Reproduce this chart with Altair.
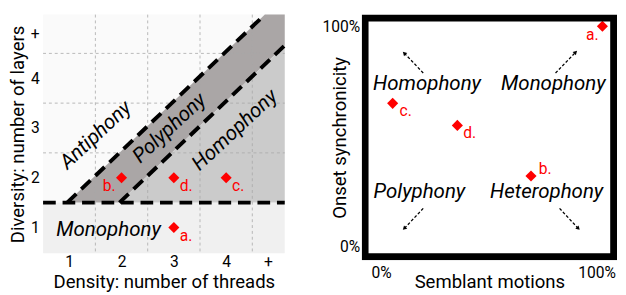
import altair as alt
import pandas as pd

FONT = "Roboto"

# ---------------- left panel data ----------------
density_ticks = [1, 2, 3, 4, 4.8]
density_labels = ["1", "2", "3", "4", "+"]
diversity_ticks = [1, 2, 3, 4, 4.9]
diversity_labels = ["1", "2", "3", "4", "+"]
grid_x = [1.5, 2.5, 3.5, 4.5]
grid_y = [2.5, 3.5, 4.5]

pt_names = ["a.", "b.", "c.", "d."]
left_x = [3, 2, 4, 3]
left_y = [1, 2, 2, 2]

# region boundaries (data space)
XL, XR = 0.5, 5.12
YB, YT = 0.48, 5.28
SPLIT = 1.5
band_x = [0.96, 1.96, 4.74, 5.12]
band_top = [1.5, 2.5, 5.28, 5.28]
band_bot = [1.5, 1.5, 4.28, 4.66]
homo_x = [1.96, 5.12]
homo_top = [1.5, 4.66]
homo_bot = [1.5, 1.5]

region_names = ["Antiphony", "Polyphony", "Homophony"]
region_x = [1.51, 2.92, 4.17]
region_y = [2.85, 2.99, 2.95]
mono_x = [1.75]
mono_y = [0.95]

# ---------------- right panel data ----------------
right_x = [1.0, 0.68, 0.06, 0.35]
right_y = [1.0, 0.32, 0.65, 0.55]
quad_names = ["Homophony", "Monophony", "Polyphony", "Heterophony"]
quad_x = [0.214, 0.78, 0.18, 0.75]
quad_y = [0.735, 0.735, 0.248, 0.248]
arrow_x0 = [0.197, 0.79, 0.197, 0.808]
arrow_y0 = [0.788, 0.788, 0.173, 0.173]
arrow_x1 = [0.114, 0.878, 0.114, 0.89]
arrow_y1 = [0.876, 0.88, 0.084, 0.084]
arrow_angle = [315, 45, 225, 135]

# label styles (align, dx, dy)
left_label_style = {"a.": ("left", 6, 9), "b.": ("right", -6, 9),
                    "c.": ("left", 6, 9), "d.": ("left", 6, 9)}
right_label_style = {"a.": ("right", -4, 9), "b.": ("left", 8, -7),
                     "c.": ("left", 7, 8), "d.": ("left", 6, 8)}

LW, LH = 248, 245
RW, RH = 262, 252


def label_expr(ticks, labels):
    arr = "[" + ",".join(f"'{l}'" for l in labels) + "]"
    vals = "[" + ",".join(str(v) for v in ticks) + "]"
    return f"{arr}[indexof({vals}, datum.value)]"


xs = alt.Scale(domain=[XL, XR], nice=False, zero=False)
ys = alt.Scale(domain=[YB, YT], nice=False, zero=False)

bg = pd.DataFrame({"x": [XL, XL], "x2": [XR, XR], "y": [SPLIT, YB], "y2": [YT, SPLIT],
                   "c": ["#fafafa", "#f0f0f0"]})
bg_layer = alt.Chart(bg).mark_rect().encode(
    x=alt.X("x:Q", scale=xs,
            axis=alt.Axis(values=density_ticks, labelExpr=label_expr(density_ticks, density_labels),
                          title="Density: number of threads", domain=False, ticks=False, grid=False,
                          labelFontSize=16, titleFontSize=19, labelPadding=1,
                          titleFontWeight="normal", labelColor="black", titleColor="black",
                          titleY=29, titleBaseline="middle")),
    x2="x2:Q",
    y=alt.Y("y:Q", scale=ys,
            axis=alt.Axis(values=diversity_ticks, labelExpr=label_expr(diversity_ticks, diversity_labels),
                          title="Diversity: number of layers", domain=False, ticks=False, grid=False,
                          labelFontSize=16, titleFontSize=19, labelPadding=4,
                          titleFontWeight="normal", labelColor="black", titleColor="black",
                          titleX=-26, titleBaseline="middle")),
    y2="y2:Q",
    color=alt.Color("c:N", scale=None),
)

band = pd.DataFrame({"x": band_x, "top": band_top, "bot": band_bot})
band_layer = alt.Chart(band).mark_area(color="#aaa6a6", opacity=1).encode(
    x=alt.X("x:Q", scale=xs), y=alt.Y("top:Q", scale=ys), y2="bot:Q")
homo = pd.DataFrame({"x": homo_x, "top": homo_top, "bot": homo_bot})
homo_layer = alt.Chart(homo).mark_area(color="#cbcbcb", opacity=1).encode(
    x=alt.X("x:Q", scale=xs), y=alt.Y("top:Q", scale=ys), y2="bot:Q")

gx = alt.Chart(pd.DataFrame({"v": grid_x})).mark_rule(
    color="#a8a8a8", strokeWidth=0.8, strokeDash=[3, 3]).encode(
    x=alt.X("v:Q", scale=xs), y=alt.value(0), y2=alt.value(LH))
gy = alt.Chart(pd.DataFrame({"v": grid_y})).mark_rule(
    color="#a8a8a8", strokeWidth=0.8, strokeDash=[3, 3]).encode(
    y=alt.Y("v:Q", scale=ys), x=alt.value(0), x2=alt.value(LW))

lines = pd.DataFrame({"x": [XL, band_x[0], homo_x[0]], "y": [SPLIT, SPLIT, SPLIT],
                      "x2": [XR, band_x[2], homo_x[1]], "y2": [SPLIT, band_top[2], homo_top[1]]})
dash_layer = alt.Chart(lines).mark_rule(color="black", strokeWidth=4, strokeDash=[13, 7]).encode(
    x=alt.X("x:Q", scale=xs), y=alt.Y("y:Q", scale=ys), x2="x2:Q", y2="y2:Q")

reg = pd.DataFrame({"t": region_names, "x": region_x, "y": region_y})
reg_layer = alt.Chart(reg).mark_text(fontSize=21, fontStyle="italic", angle=317,
                                     align="center", baseline="middle", font=FONT).encode(
    x=alt.X("x:Q", scale=xs), y=alt.Y("y:Q", scale=ys), text="t:N")
mono = pd.DataFrame({"t": ["Monophony"], "x": mono_x, "y": mono_y})
mono_layer = alt.Chart(mono).mark_text(fontSize=21, fontStyle="italic",
                                       align="center", baseline="middle", font=FONT).encode(
    x=alt.X("x:Q", scale=xs), y=alt.Y("y:Q", scale=ys), text="t:N")

lp = pd.DataFrame({"n": pt_names, "x": left_x, "y": left_y})
lp_layer = alt.Chart(lp).mark_point(shape="diamond", filled=True, size=130, color="#ff0000", opacity=1).encode(
    x=alt.X("x:Q", scale=xs), y=alt.Y("y:Q", scale=ys))
left_labels = []
for n in pt_names:
    a, dx, dy = left_label_style[n]
    left_labels.append(
        alt.Chart(lp).transform_filter(alt.datum.n == n).mark_text(
            color="#ff0000", fontSize=16, align=a, dx=dx, dy=dy, baseline="middle", font=FONT).encode(
            x=alt.X("x:Q", scale=xs), y=alt.Y("y:Q", scale=ys), text="n:N"))

left = alt.layer(bg_layer, band_layer, homo_layer, gx, gy, dash_layer, reg_layer, mono_layer,
                 lp_layer, *left_labels).properties(
    width=LW, height=LH, view=alt.ViewBackground(stroke="transparent"))

# ---------------- right panel ----------------
rxs = alt.Scale(domain=[-0.0786, 1.0655], nice=False, zero=False)
rys = alt.Scale(domain=[-0.062, 1.053], nice=False, zero=False)

frame = alt.Chart(pd.DataFrame({"k": [0]})).mark_rect(
    filled=False, stroke="black", strokeWidth=7, clip=True).encode(
    x=alt.value(3.5), x2=alt.value(RW - 3.5), y=alt.value(3.5), y2=alt.value(RH - 3.5))

rp = pd.DataFrame({"n": pt_names, "x": right_x, "y": right_y})
rp_layer = alt.Chart(rp).mark_point(shape="diamond", filled=True, size=130, color="#ff0000", opacity=1).encode(
    x=alt.X("x:Q", scale=rxs,
            axis=alt.Axis(values=[0, 1], format=".0%", title="Semblant motions", domain=False,
                          ticks=False, grid=False, labelFontSize=16, titleFontSize=19,
                          labelPadding=5, titleFontWeight="normal", labelColor="black",
                          titleColor="black", titleY=22, titleBaseline="middle",
                          labelOffset={"condition": {"test": "datum.value == 1", "value": -6}, "value": 2})),
    y=alt.Y("y:Q", scale=rys,
            axis=alt.Axis(values=[0, 1], format=".0%", title="Onset synchronicity", domain=False,
                          ticks=False, grid=False, labelFontSize=16, titleFontSize=19,
                          labelPadding=2, titleFontWeight="normal", labelColor="black",
                          titleColor="black", titleX=-23, titleBaseline="middle")))
right_labels = []
for n in pt_names:
    a, dx, dy = right_label_style[n]
    right_labels.append(
        alt.Chart(rp).transform_filter(alt.datum.n == n).mark_text(
            color="#ff0000", fontSize=16, align=a, dx=dx, dy=dy, baseline="middle", font=FONT).encode(
            x=alt.X("x:Q", scale=rxs), y=alt.Y("y:Q", scale=rys), text="n:N"))

quad = pd.DataFrame({"t": quad_names, "x": quad_x, "y": quad_y})
quad_layer = alt.Chart(quad).mark_text(fontSize=21, fontStyle="italic", align="center",
                                       baseline="middle", font=FONT).encode(
    x=alt.X("x:Q", scale=rxs), y=alt.Y("y:Q", scale=rys), text="t:N")

arr = pd.DataFrame({"x": arrow_x0, "y": arrow_y0, "x2": arrow_x1, "y2": arrow_y1, "a": arrow_angle})
arr_line = alt.Chart(arr).mark_rule(color="black", strokeWidth=1.3, strokeDash=[3, 2]).encode(
    x=alt.X("x:Q", scale=rxs), y=alt.Y("y:Q", scale=rys), x2="x2:Q", y2="y2:Q")
arr_head = alt.Chart(arr).mark_point(shape="triangle", filled=True, size=22, color="black", opacity=1).encode(
    x=alt.X("x2:Q", scale=rxs), y=alt.Y("y2:Q", scale=rys), angle=alt.Angle("a:Q", scale=None))

right = alt.layer(rp_layer, frame, quad_layer, arr_line, arr_head, *right_labels).properties(
    width=RW, height=RH, view=alt.ViewBackground(stroke="transparent", fill="white"))

chart = alt.hconcat(left, right, spacing=34).properties(padding=0).configure(font=FONT)

chart.save("out.html", embed_options={"renderer": "svg", "actions": False})
